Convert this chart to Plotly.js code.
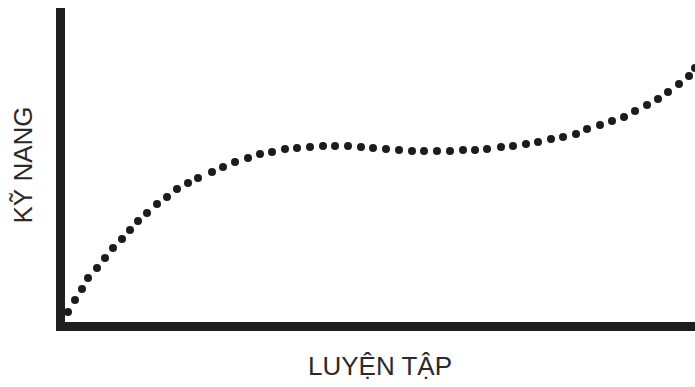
<!DOCTYPE html>
<html>
<head>
<meta charset="utf-8">
<script src="https://cdn.plot.ly/plotly-3.0.1.min.js"></script>
<style>html,body{margin:0;padding:0;background:#fff;}#chart{width:695px;height:387px;}</style>
</head>
<body>
<div id="chart"></div>
<script>
// Practice (x) vs skill (y), one value per dot
const practice = [8,15,22,28,37,45,53,62,70,78,87,97,107,117,128,138,
  152,163,175,188,200,212,225,237,250,263,275,288,301,313,326,339,352,364,377,390,403,415,427,
  441,453,466,478,491,503,516,527,540,552,564,575,587,598,608,619,629,635];
const skill = [14,26,37,48,58,68,78,87,96,105,113,122,129,137,143,148,
  154,159,164,168,172,174,177,178,179,180,180,180,179,178,177,176,175,175,175,175,176,176,177,
  179,180,182,184,187,189,192,197,201,205,209,215,221,227,234,242,250,258];
const xTitle = "LUYỆN TẬP";
const yTitle = "KỸ NANG";

const trace = {
  x: practice, y: skill, type: 'scatter', mode: 'markers',
  marker: {size: 8, color: '#1c1c1c', line: {width: 0}},
  hoverinfo: 'skip'
};
const axisFont = {family: 'Liberation Sans, Arial, sans-serif', size: 26, color: '#2a2a2a'};
const layout = {
  width: 695, height: 387,
  margin: {l: 65, r: 0, t: 8, b: 65},
  paper_bgcolor: '#ffffff', plot_bgcolor: '#ffffff',
  showlegend: false,
  xaxis: {range: [5, 635], showgrid: false, zeroline: false, showticklabels: false, ticks: '',
    showline: true, linewidth: 9, linecolor: '#1e1e1e',
    title: {text: xTitle, font: axisFont, standoff: 30}},
  yaxis: {range: [4, 318], showgrid: false, zeroline: false, showticklabels: false, ticks: '',
    showline: true, linewidth: 9, linecolor: '#1e1e1e',
    title: {text: yTitle, font: axisFont, standoff: 19}}
};
Plotly.newPlot('chart', [trace], layout, {displayModeBar: false, staticPlot: true});
</script>
</body>
</html>
